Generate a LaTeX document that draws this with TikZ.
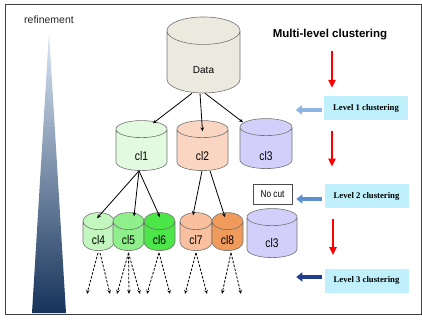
\documentclass[tikz,border=0pt]{standalone}
\usepackage{fontspec}
\setmainfont{Liberation Sans}
\newfontfamily\levelfont{Liberation Serif}
\newfontfamily\narrowfont[FakeStretch=0.82]{Liberation Sans}
\usetikzlibrary{shapes.geometric,arrows.meta,positioning}

\definecolor{datacol}{HTML}{ECEADF}
\definecolor{clone}{HTML}{E2FAE0}
\definecolor{cltwo}{HTML}{FAD6C2}
\definecolor{clthree}{HTML}{D2D0FA}
\definecolor{clfour}{HTML}{C3F7BF}
\definecolor{clfive}{HTML}{8FF08B}
\definecolor{clsix}{HTML}{4DE649}
\definecolor{clseven}{HTML}{F8C09E}
\definecolor{cleight}{HTML}{F09A5C}
\definecolor{levelcyan}{HTML}{BFF0FB}
\definecolor{pointone}{HTML}{8DB4E2}
\definecolor{pointtwo}{HTML}{5B8FD0}
\definecolor{pointthree}{HTML}{1F3D8A}
\definecolor{reftop}{HTML}{DCE9F7}
\definecolor{refmid}{HTML}{7B9CC7}
\definecolor{refbot}{HTML}{17335A}

% label lowered inside a cylinder, no size of its own
\newcommand\dbtext[2]{\raisebox{#1}[0pt][0pt]{#2}}

\tikzset{
  db/.style={cylinder, shape border rotate=90, aspect=1.3, draw=black!55,
    line width=0.6pt, inner sep=0pt, font=\narrowfont\fontsize{12.5}{13}\selectfont},
  lvl/.style={fill=levelcyan, minimum width=84pt, minimum height=24pt,
    font=\levelfont\bfseries\fontsize{8.7}{10}\selectfont},
  tree/.style={-{Stealth[length=4pt,width=3.5pt]}, line width=0.8pt},
  dashtree/.style={tree, dash pattern=on 2.5pt off 1.5pt},
  downarrow/.style={red, line width=2pt, -{Triangle[length=8pt,width=7pt]}},
  pointer/.style={line width=3.5pt, -{Triangle[length=6pt,width=9pt]}}
}

\begin{document}
\begin{tikzpicture}[x=1pt,y=-1pt]
  \useasboundingbox (0,0) rectangle (422,320);
  \draw[black!75, line width=1pt] (5,5) rectangle (421,314);

  % refinement wedge
  \node[font=\fontsize{10.5}{12}\selectfont, text=black!85] (refine) at (49,20) {refinement};
  \shade[top color=reftop, middle color=refmid, bottom color=refbot]
    (49,32) -- (66,313) -- (32,313) -- cycle;

  % tree
  \node[db, fill=datacol, minimum width=73pt, minimum height=76pt,
    font=\fontsize{10}{12}\selectfont] (data) at (203.5,62) {\dbtext{-11.6pt}{Data}};

  \node[db, fill=clone, minimum width=51pt, minimum height=50pt] (cl1) at (141.5,150) {\dbtext{-11pt}{cl1}};
  \node[db, fill=cltwo, minimum width=51pt, minimum height=50pt] (cl2) at (202.5,150) {\dbtext{-11pt}{cl2}};
  \node[db, fill=clthree, minimum width=52pt, minimum height=50pt] (cl3) at (266,148) {\dbtext{-13pt}{cl3}};

  \node[db, fill=clfour, minimum width=31pt, minimum height=38pt] (cl4) at (98.5,236) {\dbtext{-8pt}{cl4}};
  \node[db, fill=clfive, minimum width=31pt, minimum height=38pt] (cl5) at (128.5,236) {\dbtext{-8pt}{cl5}};
  \node[db, fill=clsix, minimum width=31pt, minimum height=38pt] (cl6) at (159.5,236) {\dbtext{-8pt}{cl6}};
  \node[db, fill=clseven, minimum width=32pt, minimum height=38pt] (cl7) at (196,236) {\dbtext{-8pt}{cl7}};
  \node[db, fill=cleight, minimum width=31pt, minimum height=38pt] (cl8) at (227.5,236) {\dbtext{-8pt}{cl8}};
  \node[db, fill=clthree, minimum width=50pt, minimum height=49pt] (cl3b) at (272,237.5) {\dbtext{-9.5pt}{cl3}};

  \node[draw=black!70, line width=0.6pt, minimum width=39pt, minimum height=20pt,
    font=\narrowfont\fontsize{10}{12}\selectfont] (nocut) at (272.5,194) {No cut};

  \draw[tree] ([xshift=-11.5pt]data.bottom) -- ([xshift=11.5pt,yshift=-3pt]cl1.top);
  \draw[tree] ([xshift=-3.5pt]data.bottom) -- ([yshift=-11pt]cl2.top);
  \draw[tree] ([xshift=1.5pt]data.bottom) -- ([xshift=-23pt,yshift=-4pt]cl3.top);

  \draw[tree] ([xshift=-2.5pt]cl1.bottom) -- ([xshift=-1.5pt,yshift=-6pt]cl4.top);
  \draw[tree] ([xshift=-2.5pt]cl1.bottom) -- ([xshift=5.5pt,yshift=-4pt]cl5.top);
  \draw[tree] ([xshift=-2.5pt]cl1.bottom) -- ([xshift=0.5pt,yshift=-5pt]cl6.top);
  \draw[tree] ([xshift=-0.5pt]cl2.bottom) -- ([xshift=-3pt,yshift=-3pt]cl7.top);
  \draw[tree] ([xshift=7.5pt]cl2.bottom) -- ([xshift=-2.5pt,yshift=-5pt]cl8.top);

  \foreach \n/\s/\e in {cl4/-0.5/-11, cl4/1.5/10, cl5/0/-11.5, cl5/0/0.5, cl5/0/11.5,
      cl6/-0.5/-12, cl6/-0.5/11, cl7/0/-11, cl7/0/11, cl8/3.5/-9, cl8/3.5/10}
    \draw[dashtree] ([xshift=\s pt,yshift=-2pt]\n.bottom) -- ++(\e,41);

  % levels
  \node[font=\bfseries\fontsize{11.5}{13}\selectfont] (title) at (330,35) {Multi-level clustering};
  \node[lvl] (lev1) at (366,108.5) {Level 1 clustering};
  \node[lvl] (lev2) at (366.5,196) {Level 2 clustering};
  \node[lvl] (lev3) at (366.5,280.5) {Level 3 clustering};

  \draw[downarrow] ([xshift=2pt,yshift=-7pt]title.south) -- ++(0,37);
  \draw[downarrow] ([xshift=-34pt,yshift=-10pt]lev1.south) -- ++(0,36);
  \draw[downarrow] ([xshift=-33.5pt,yshift=-11pt]lev2.south) -- ++(0,36);

  \draw[pointer, pointone] ([xshift=-2pt,yshift=-1.5pt]lev1.west) -- ++(-26,0);
  \draw[pointer, pointtwo] ([xshift=-2pt,yshift=-3pt]lev2.west) -- ++(-26,0);
  \draw[pointer, pointthree] ([xshift=-2pt,yshift=3.5pt]lev3.west) -- ++(-26,0);
\end{tikzpicture}
\end{document}
